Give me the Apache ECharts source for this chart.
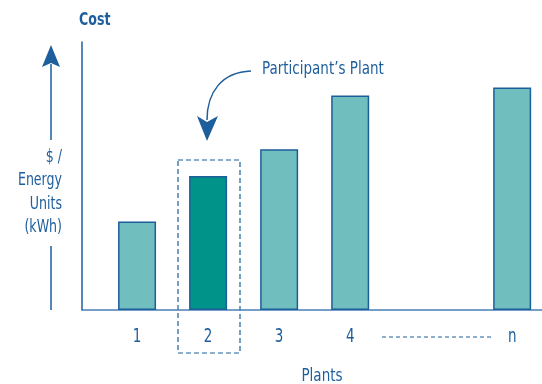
<!DOCTYPE html>
<html>
<head>
<meta charset="utf-8">
<script src="https://cdn.jsdelivr.net/npm/echarts@6/dist/echarts.min.js"></script>
<style>
  html, body { margin: 0; padding: 0; background: #fff; }
  #chart { width: 542px; height: 384px; }
</style>
</head>
<body>
<div id="chart"></div>
<script>
// plants along the x axis ('n' sits after a gap)
const plantNames = ['1', '2', '3', '4', 'n'];
const plantPos = [1, 2, 3, 4, 6.28];
const costValues = [33, 50, 60, 80, 83];
const participantIndex = 1;
const yAxisLines = ['$ /', 'Energy', 'Units', '(kWh)'];

const blue = '#1d5e9c';
const lightTeal = '#70bfbe';
const darkTeal = '#00938a';
const font = "'DejaVu Sans Condensed', sans-serif";

const chart = echarts.init(document.getElementById('chart'));

const barData = plantPos.map((x, i) => ({
  value: [x, costValues[i]],
  itemStyle: { color: i === participantIndex ? darkTeal : lightTeal }
}));

// tall condensed text (the original face is narrower and taller than DejaVu)
function tallText(t, x, y, size, align, bold, sy) {
  return {
    type: 'text', x: x, y: y, scaleY: sy || 1.25,
    style: { text: t, fill: blue, font: (bold ? 'bold ' : '') + size + 'px ' + font,
             align: align, verticalAlign: 'middle' }
  };
}

const graphics = [
  // left arrow
  { type: 'line', shape: { x1: 51, y1: 64, x2: 51, y2: 140 }, style: { stroke: blue, lineWidth: 1.5 } },
  { type: 'line', shape: { x1: 51, y1: 246, x2: 51, y2: 310 }, style: { stroke: blue, lineWidth: 1.5 } },
  { type: 'polygon', shape: { points: [[51, 45], [60, 67], [51, 63], [42, 67]] }, style: { fill: blue } },
  tallText('Cost', 79, 20, 14, 'left', true, 1.3),
  ...yAxisLines.map((t, i) => tallText(t, 62, 157 + i * 23.5, 14, 'right', false, 1.3)),
  // participant highlight
  { type: 'rect', shape: { x: 178, y: 160, width: 62, height: 193 },
    style: { fill: null, stroke: blue, lineWidth: 1.2, lineDash: [5, 3] } },
  { type: 'bezierCurve', shape: { x1: 251, y1: 71, cpx1: 222, cpy1: 72, cpx2: 207, cpy2: 92, x2: 207, y2: 120 },
    style: { stroke: blue, lineWidth: 1.5, fill: null } },
  { type: 'polygon', shape: { points: [[207, 141], [197, 116], [207, 122], [218, 116]] }, style: { fill: blue } },
  tallText('Participant\u2019s Plant', 262, 69, 15, 'left', false, 1.2),
  // gap between 4 and n
  { type: 'line', shape: { x1: 382, y1: 337, x2: 492, y2: 337 }, style: { stroke: blue, lineWidth: 1.2, lineDash: [4, 3] } },
  tallText('Plants', 322, 376, 15, 'center', false, 1.2)
];

const option = {
  backgroundColor: '#fff',
  animation: false,
  grid: { left: 82, right: 0, top: 42, bottom: 74 },
  xAxis: {
    type: 'value',
    min: 0.225,
    max: 6.7,
    axisLine: { show: true, lineStyle: { color: '#4a7fb5', width: 1.5 } },
    axisTick: { show: false },
    axisLabel: { show: false },
    splitLine: { show: false }
  },
  yAxis: {
    type: 'value',
    min: 0,
    max: 100,
    axisLine: { show: true, lineStyle: { color: blue, width: 1.5 } },
    axisTick: { show: false },
    axisLabel: { show: false },
    splitLine: { show: false }
  },
  series: [{
    type: 'bar',
    barWidth: 38,
    data: barData,
    itemStyle: { borderColor: blue, borderWidth: 1.5 }
  }],
  graphic: graphics
};

chart.setOption(option);

// plant labels under the axis, placed through the x scale
const labels = plantPos.map((x, i) => {
  const p = chart.convertToPixel({ gridIndex: 0 }, [x, 0]);
  return tallText(plantNames[i], p[0], p[1] + 27, 15, 'center', false, 1.3);
});
chart.setOption({ graphic: graphics.concat(labels) });
</script>
</body>
</html>
